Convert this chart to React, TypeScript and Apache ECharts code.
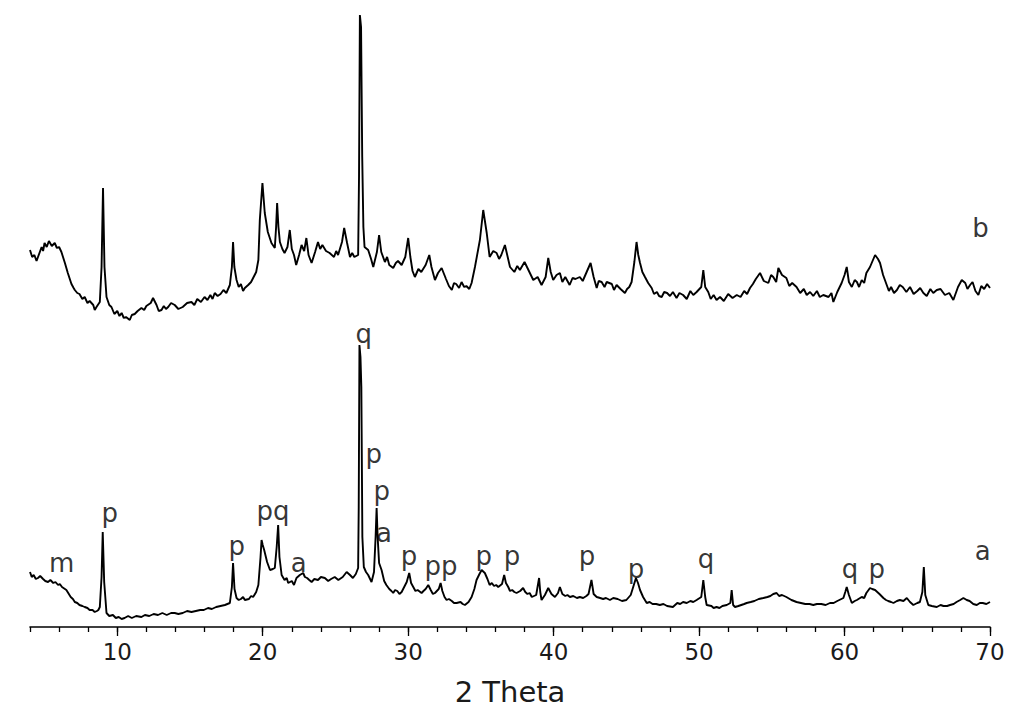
import React, { useEffect, useRef } from "react";
import * as echarts from "echarts";

// Pattern b (upper trace, offset intensity, arbitrary units)
const patternB: [number, number][] = [
  [4.0, 377], [4.15, 370], [4.3, 372], [4.45, 366], [4.55, 370], [4.7, 376], [4.8, 380], [4.9, 376], [5.0, 384], [5.15, 380], [5.3, 386], [5.5, 381], [5.7, 384], [5.85, 379], [6.0, 380],
  [6.16, 375], [6.4, 364], [6.6, 354], [6.85, 343], [7.0, 339], [7.08, 337], [7.25, 334], [7.4, 333], [7.6, 328], [7.76, 330], [7.95, 324], [8.1, 326],
  [8.35, 322], [8.45, 317], [8.57, 320], [8.8, 325], [8.92, 360], [9.02, 439], [9.12, 360], [9.26, 330], [9.45, 322], [9.6, 320],
  [9.8, 313], [10.0, 316], [10.15, 311], [10.3, 314], [10.45, 309], [10.6, 310], [10.86, 307], [11.0, 312], [11.2, 313], [11.4, 316], [11.66, 319], [11.85, 317], [12.0, 321], [12.3, 324],
  [12.46, 329], [12.7, 322], [12.85, 316], [13.04, 317], [13.2, 321], [13.35, 318], [13.5, 320], [13.7, 324], [13.95, 322], [14.2, 318], [14.5, 320], [14.8, 324], [15.1, 325], [15.3, 322], [15.5, 328],
  [15.75, 325], [16.0, 330], [16.2, 327], [16.4, 332], [16.55, 328], [16.7, 334], [16.9, 331], [17.1, 333], [17.3, 337], [17.5, 334], [17.74, 342], [17.88, 360], [17.96, 385],
  [18.05, 360], [18.2, 347], [18.35, 340], [18.5, 343], [18.65, 336], [18.77, 339], [19.0, 342], [19.2, 345], [19.34, 349], [19.55, 355], [19.7, 367],
  [19.8, 407], [19.98, 444], [20.14, 414], [20.35, 395], [20.6, 384], [20.83, 379], [20.92, 400], [20.99, 424],
  [21.08, 400], [21.18, 385], [21.35, 378], [21.5, 374], [21.7, 380], [21.86, 397], [22.0, 378], [22.15, 372], [22.3, 362], [22.5, 372],
  [22.67, 382], [22.85, 376], [23.0, 389], [23.15, 372], [23.36, 364], [23.6, 375], [23.8, 385], [23.95, 378], [24.1, 382], [24.35, 376], [24.6, 374],
  [24.9, 370], [25.05, 376], [25.18, 372], [25.45, 385], [25.6, 399], [25.8, 384], [26.0, 370], [26.15, 374], [26.3, 370], [26.56, 372],
  [26.62, 450], [26.68, 612], [26.76, 600], [26.84, 470], [26.92, 400], [27.0, 380], [27.25, 377], [27.45, 368], [27.6, 360],
  [27.85, 375], [28.0, 392], [28.15, 375], [28.4, 365], [28.55, 370], [28.7, 362], [28.97, 359], [29.15, 364], [29.3, 366], [29.55, 362],
  [29.8, 370], [30.0, 389], [30.15, 370], [30.3, 356], [30.46, 350], [30.7, 358], [30.9, 355], [31.2, 362], [31.45, 372], [31.6, 360],
  [31.84, 347], [32.05, 354], [32.3, 359], [32.6, 348], [32.8, 341], [33.0, 337], [33.15, 344], [33.3, 343], [33.5, 339], [33.67, 345], [33.85, 340], [34.0, 341], [34.2, 338], [34.36, 344],
  [34.59, 360], [34.93, 387], [35.16, 417], [35.4, 394], [35.6, 370], [35.85, 376], [36.08, 374], [36.25, 368], [36.4, 372],
  [36.65, 382], [37.0, 360], [37.3, 355], [37.5, 361], [37.68, 357], [38.0, 365], [38.3, 356], [38.6, 347], [38.9, 350],
  [39.17, 342], [39.45, 350], [39.63, 369], [39.8, 355], [39.97, 347], [40.2, 352], [40.43, 354], [40.6, 345], [40.8, 350], [41.1, 342],
  [41.3, 349], [41.5, 348], [41.8, 350], [42.0, 346], [42.27, 355], [42.54, 364], [42.75, 350], [42.96, 339], [43.1, 346], [43.3, 345], [43.5, 340], [43.65, 345],
  [44.0, 343], [44.15, 337], [44.33, 342], [44.6, 338], [44.9, 334], [45.05, 338], [45.2, 340], [45.36, 345], [45.55, 365], [45.7, 385],
  [45.82, 372], [45.94, 364], [46.1, 355], [46.28, 350], [46.5, 344], [46.74, 339], [46.9, 333], [47.1, 335], [47.25, 331], [47.43, 330], [47.6, 335], [47.8, 334], [48.0, 331], [48.2, 335],
  [48.45, 329], [48.65, 334], [48.9, 332], [49.15, 328], [49.4, 336], [49.6, 332], [49.83, 335], [50.15, 340], [50.29, 357], [50.42, 340], [50.63, 335], [50.8, 328], [51.0, 332],
  [51.2, 327], [51.44, 330], [51.7, 326], [52.0, 333], [52.3, 329], [52.59, 332], [52.85, 330], [53.1, 336], [53.3, 333], [53.5, 339], [53.7, 343], [53.9, 348], [54.19, 354], [54.45, 346],
  [54.76, 344], [54.95, 352], [55.1, 350], [55.3, 345], [55.45, 359], [55.7, 352], [56.0, 349], [56.2, 341], [56.4, 344], [56.7, 340], [56.95, 334], [57.2, 338],
  [57.4, 332], [57.63, 335], [57.85, 331], [58.1, 336], [58.3, 330], [58.54, 332], [58.9, 330], [59.1, 334], [59.23, 325], [59.5, 335], [59.8, 344], [60.0, 352],
  [60.15, 360], [60.3, 345], [60.5, 340], [60.7, 347], [60.85, 345], [61.0, 340], [61.18, 347], [61.35, 344], [61.5, 354], [61.75, 360], [62.1, 372],
  [62.3, 368], [62.44, 364], [62.65, 352], [62.9, 342], [63.05, 336], [63.2, 340], [63.4, 334], [63.6, 337], [63.8, 342], [64.0, 340], [64.25, 335], [64.5, 340],
  [64.75, 333], [65.0, 336], [65.2, 339], [65.42, 334], [65.65, 331], [65.9, 338], [66.1, 334], [66.34, 337], [66.6, 338], [66.9, 332], [67.2, 334], [67.48, 327], [67.8, 340],
  [68.06, 347], [68.3, 344], [68.45, 338], [68.63, 342], [68.8, 345], [69.0, 336], [69.2, 332], [69.4, 341], [69.6, 338], [69.8, 343], [70.0, 339],
];

// Pattern a (lower trace)
const patternA: [number, number][] = [
  [4.0, 55], [4.12, 50], [4.25, 52], [4.4, 48], [4.55, 49], [4.7, 51], [4.9, 48], [5.05, 46], [5.24, 45], [5.4, 47], [5.6, 44], [5.75, 45], [5.93, 42], [6.05, 43], [6.2, 40],
  [6.5, 37], [6.8, 30], [6.95, 28], [7.08, 25], [7.25, 24], [7.4, 22], [7.6, 21], [7.76, 20], [7.95, 19], [8.1, 17], [8.3, 17], [8.45, 15], [8.6, 16], [8.7, 17],
  [8.8, 20], [8.92, 50], [9.0, 95], [9.1, 45], [9.26, 14], [9.45, 11], [9.7, 12], [9.9, 9], [10.1, 10], [10.3, 8], [10.5, 9],
  [10.75, 11], [11.0, 9], [11.3, 11], [11.66, 10], [11.9, 12], [12.2, 11], [12.5, 13], [12.8, 12], [13.1, 14], [13.4, 12], [13.7, 14], [13.95, 14], [14.2, 13], [14.5, 14], [14.8, 16], [15.1, 15],
  [15.4, 16], [15.7, 17], [15.95, 17], [16.24, 19], [16.5, 18], [16.8, 20], [17.1, 21], [17.4, 22], [17.74, 24], [17.88, 40], [17.96, 64], [18.06, 38],
  [18.2, 29], [18.35, 27], [18.5, 28], [18.65, 30], [18.77, 27], [19.05, 28], [19.2, 31], [19.34, 30], [19.55, 35], [19.7, 42], [19.85, 70],
  [19.92, 87], [20.0, 82], [20.1, 77], [20.3, 65], [20.5, 57], [20.7, 58], [20.83, 59], [20.96, 80], [21.06, 102],
  [21.15, 70], [21.3, 52], [21.5, 47], [21.65, 49], [21.75, 44], [22.0, 46], [22.15, 42], [22.32, 49], [22.55, 52], [22.78, 54],
  [22.9, 50], [23.05, 49], [23.2, 47], [23.36, 45], [23.55, 48], [23.8, 47], [24.0, 50], [24.27, 49], [24.5, 46], [24.7, 48], [24.95, 50], [25.2, 47], [25.5, 50], [25.77, 55],
  [26.0, 52], [26.2, 49], [26.4, 53], [26.56, 59], [26.6, 120], [26.65, 282], [26.72, 270], [26.78, 240],
  [26.85, 90], [26.95, 60], [27.1, 55], [27.25, 52], [27.48, 45], [27.65, 55], [27.76, 90], [27.83, 119],
  [27.9, 90], [28.0, 64], [28.17, 57], [28.35, 46], [28.5, 42], [28.7, 38], [28.85, 36], [28.97, 34], [29.1, 37], [29.25, 36], [29.4, 33], [29.55, 35],
  [29.9, 45], [30.07, 54], [30.2, 44], [30.35, 40], [30.5, 36], [30.65, 37], [30.92, 34], [31.05, 36], [31.2, 38], [31.38, 42],
  [31.55, 37], [31.7, 33], [31.84, 34], [32.1, 38], [32.23, 44], [32.35, 36], [32.5, 30], [32.64, 27], [32.8, 28], [33.0, 26], [33.15, 24], [33.33, 24],
  [33.6, 25], [33.75, 23], [33.9, 22], [34.15, 25], [34.36, 30], [34.55, 38], [34.7, 47], [34.9, 53], [35.05, 57],
  [35.27, 54], [35.45, 48], [35.6, 42], [35.75, 44], [35.9, 41], [36.05, 42], [36.19, 40], [36.45, 43], [36.6, 52], [36.72, 44],
  [36.88, 40], [37.0, 36], [37.15, 37], [37.3, 35], [37.45, 34], [37.7, 36], [37.9, 39], [38.05, 35], [38.2, 33], [38.35, 34], [38.5, 30], [38.8, 32],
  [39.0, 49], [39.08, 35], [39.17, 27], [39.4, 32], [39.63, 39], [39.85, 33], [40.09, 30], [40.3, 34],
  [40.43, 40], [40.6, 33], [40.8, 31], [40.95, 32], [41.12, 30], [41.35, 31], [41.6, 29], [41.8, 30], [42.03, 29], [42.25, 31], [42.4, 33], [42.6, 47],
  [42.75, 33], [42.96, 30], [43.2, 29], [43.4, 28], [43.6, 29], [43.87, 27], [44.1, 29], [44.4, 28], [44.7, 26], [45.0, 27], [45.3, 32], [45.47, 40],
  [45.66, 49], [45.8, 44], [45.94, 37], [46.15, 30], [46.4, 24], [46.6, 25], [46.8, 23], [47.05, 23], [47.3, 22], [47.55, 23], [47.8, 21],
  [48.2, 20], [48.5, 24], [48.7, 23], [48.9, 25], [49.15, 24], [49.4, 26], [49.6, 25], [49.83, 27], [50.15, 30], [50.29, 47], [50.42, 30],
  [50.52, 22], [50.85, 21], [51.0, 19], [51.2, 20], [51.4, 19], [51.6, 21], [51.9, 22], [52.15, 24], [52.24, 37], [52.34, 22],
  [52.47, 20], [52.7, 21], [52.9, 22], [53.1, 23], [53.27, 24], [53.55, 25], [53.8, 26], [54.1, 28], [54.42, 29], [54.7, 30], [54.9, 31], [55.1, 33], [55.33, 34], [55.5, 31], [55.7, 32],
  [56.0, 30], [56.35, 27], [56.7, 25], [57.0, 24], [57.3, 23], [57.6, 23], [57.85, 22], [58.1, 23], [58.4, 23], [58.7, 22], [59.0, 24], [59.25, 24], [59.5, 26],
  [59.92, 29], [60.05, 35], [60.15, 40], [60.3, 32], [60.5, 24], [60.7, 26], [60.85, 27], [61.18, 30], [61.35, 29], [61.5, 34],
  [61.75, 39], [61.9, 38], [62.1, 37], [62.25, 35], [62.4, 33], [62.67, 29], [62.85, 27], [63.0, 26], [63.2, 25], [63.36, 24], [63.6, 26], [63.8, 27], [64.05, 26], [64.28, 29],
  [64.5, 25], [64.73, 22], [65.0, 24], [65.18, 25], [65.35, 35], [65.45, 60], [65.55, 32], [65.76, 22],
  [66.0, 21], [66.34, 20], [66.6, 22], [66.8, 21], [67.05, 21], [67.25, 22], [67.5, 23], [67.7, 25], [67.95, 27], [68.17, 29], [68.4, 27], [68.6, 26], [68.85, 23], [69.09, 22],
  [69.3, 24], [69.5, 24], [69.75, 23], [70.0, 25],
];

// Phase annotations (text, 2θ, intensity)
const annotationText = ["m", "p", "p", "pq", "a", "q", "p", "p", "a", "p", "pp", "p", "p", "p", "p", "q", "q", "p", "a", "b"];
const annotationTheta = [6.18, 9.48, 18.22, 20.7, 22.48, 26.95, 27.64, 28.19, 28.33, 30.05, 32.25, 35.2, 37.13, 42.29, 45.66, 50.47, 60.38, 62.22, 69.5, 69.35];
const annotationY = [64, 114, 81, 116, 64, 293, 173, 136, 94, 71, 61, 71, 71, 71, 58, 68, 58, 58, 76, 399];

const majorTicks = [10, 20, 30, 40, 50, 60, 70];

const FONT = "DejaVu Sans";

export default function App() {
  const ref = useRef<HTMLDivElement>(null);
  useEffect(() => {
    if (!ref.current) return;
    const chart = echarts.init(ref.current, null, { renderer: "svg" });
    chart.setOption({
      animation: false,
      backgroundColor: "#fff",
      grid: { left: 30, right: 34, top: 7, bottom: 92, containLabel: false },
      xAxis: [
        {
          type: "value",
          min: 4,
          max: 70,
          interval: 2,
          position: "bottom",
          axisLine: { lineStyle: { color: "#000", width: 1.6 } },
          axisTick: { length: 5, lineStyle: { color: "#000", width: 1.3 } },
          axisLabel: { show: false },
          splitLine: { show: false },
        },
        {
          type: "value",
          min: 4,
          max: 70,
          position: "bottom",
          axisLine: { show: false },
          axisTick: { customValues: majorTicks, length: 9, lineStyle: { color: "#000", width: 1.3 } },
          axisLabel: {
            customValues: majorTicks,
            fontFamily: FONT,
            fontSize: 23,
            color: "#1a1a1a",
            margin: 13,
          },
          splitLine: { show: false },
          name: "2 Theta",
          nameLocation: "middle",
          nameGap: 50,
          nameTextStyle: { fontFamily: FONT, fontSize: 29, color: "#1a1a1a" },
        },
      ],
      yAxis: { type: "value", min: 0, max: 620, show: false },
      series: [
        {
          type: "line",
          xAxisIndex: 0,
          data: patternB,
          showSymbol: false,
          symbol: "none",
          lineStyle: { color: "#000", width: 1.9 },
          silent: true,
        },
        {
          type: "line",
          xAxisIndex: 0,
          data: patternA,
          showSymbol: false,
          symbol: "none",
          lineStyle: { color: "#000", width: 1.9 },
          silent: true,
        },
        {
          type: "scatter",
          xAxisIndex: 0,
          symbolSize: 1,
          itemStyle: { color: "rgba(0,0,0,0)" },
          silent: true,
          data: annotationText.map((t, i) => ({ name: t, value: [annotationTheta[i], annotationY[i]] })),
          label: {
            show: true,
            position: "inside",
            formatter: (p: any) => p.name,
            fontFamily: FONT,
            fontSize: 26,
            color: "#000",
          },
        },
      ],
    });
    return () => chart.dispose();
  }, []);
  return (
    <div
      ref={ref}
      style={{ position: "absolute", left: 0, top: 0, width: 1024, height: 719, background: "#fff" }}
    />
  );
}
